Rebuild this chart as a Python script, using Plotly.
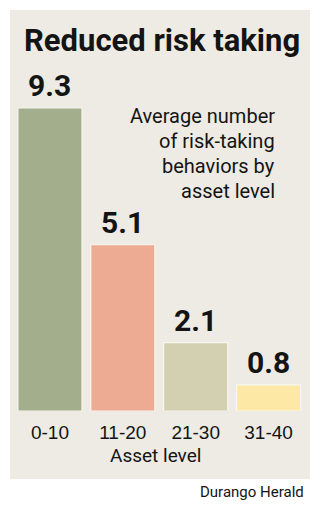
import plotly.graph_objects as go

categories = ["0-10", "11-20", "21-30", "31-40"]
values = [9.3, 5.1, 2.1, 0.8]
value_labels = ["9.3", "5.1", "2.1", "0.8"]
bar_colors = ["#a3ae8c", "#eeab94", "#d3cfb1", "#fde8a6"]
title_text = "Reduced risk taking"
note_lines = ["Average number", "of risk-taking", "behaviors by", "asset level"]
axis_title = "Asset level"
source_text = "Durango Herald"

W, H = 325, 509
BOLD = "Roboto, Liberation Sans, sans-serif"
COND = "Roboto, Liberation Sans, sans-serif"
REG = "Liberation Sans, Arial, sans-serif"
INK = "#141414"

# plot area geometry (pixels)
x_left, x_right = 13.5, 305.0
y_bottom_px, y_top_px = 411.0, 85.0

fig = go.Figure()
fig.add_trace(go.Bar(
    x=categories, y=values,
    marker=dict(color=bar_colors, line=dict(color="#f8f6ef", width=1.2)),
    hoverinfo="skip",
))

for c, v, t in zip(categories, values, value_labels):
    fig.add_annotation(x=c, y=v, text="<b>%s</b>" % t, showarrow=False,
                       yanchor="middle", yshift=22,
                       font=dict(family=BOLD, size=30, color=INK))


def py(px):
    return (H - px) / H


fig.update_layout(
    width=W, height=H,
    margin=dict(l=0, r=0, t=0, b=0),
    paper_bgcolor="white", plot_bgcolor="rgba(0,0,0,0)",
    showlegend=False, bargap=0.12,
    xaxis=dict(domain=[x_left / W, x_right / W], showgrid=False, zeroline=False,
               showline=False, ticks="", ticklabelstandoff=8,
               tickfont=dict(family=REG, size=19, color=INK),
               fixedrange=True),
    yaxis=dict(domain=[py(y_bottom_px), py(y_top_px)], range=[0, 10],
               visible=False, fixedrange=True),
    shapes=[dict(type="rect", xref="paper", yref="paper", layer="below",
                 x0=10 / W, x1=310 / W, y0=py(479), y1=py(10),
                 fillcolor="#edebe3", line=dict(width=0))],
)

fig.add_annotation(xref="paper", yref="paper", x=22 / W, y=py(40),
                   xanchor="left", yanchor="middle", showarrow=False,
                   text="<b>%s</b>" % title_text,
                   font=dict(family=BOLD, size=31, color=INK))

for i, line in enumerate(note_lines):
    fig.add_annotation(xref="paper", yref="paper", x=277 / W, y=py(116 + 25 * i),
                       xanchor="right", yanchor="middle", showarrow=False,
                       text=line, font=dict(family=COND, size=20, color=INK))

fig.add_annotation(xref="paper", yref="paper", x=155 / W, y=py(455),
                   xanchor="center", yanchor="middle", showarrow=False,
                   text=axis_title, font=dict(family=COND, size=19, color=INK))
fig.add_annotation(xref="paper", yref="paper", x=306 / W, y=py(492),
                   xanchor="right", yanchor="middle", showarrow=False,
                   text=source_text, font=dict(family=COND, size=15, color=INK))

fig.write_html("out.html")
